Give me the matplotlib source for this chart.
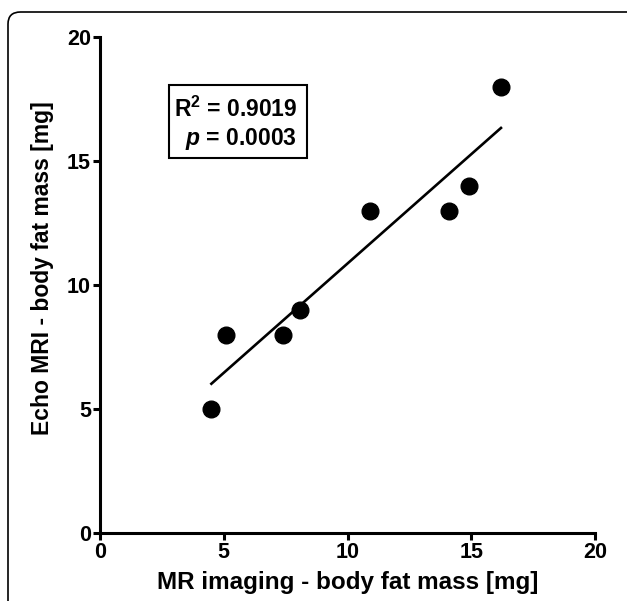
import numpy as np
import matplotlib.pyplot as plt
from matplotlib.patches import FancyBboxPatch, Rectangle

# values
mri_x = [4.5, 5.1, 7.4, 8.1, 10.9, 14.1, 14.9, 16.2]
echo_y = [5, 8, 8, 9, 13, 13, 14, 18]
ticks = [0, 5, 10, 15, 20]
r2_text = "0.9019"
p_text = "0.0003"

plt.rcParams['font.family'] = 'Liberation Sans'
plt.rcParams['font.weight'] = 'bold'
plt.rcParams['mathtext.fontset'] = 'custom'
plt.rcParams['mathtext.rm'] = 'Liberation Sans:bold'
plt.rcParams['mathtext.it'] = 'Liberation Sans:bold:italic'
plt.rcParams['mathtext.bf'] = 'Liberation Sans:bold'

fig = plt.figure(figsize=(6.27, 6.01), dpi=100)
ax = fig.add_axes([0.1595, 0.1131, 0.7895, 0.8253])

# rounded outer frame
frame = FancyBboxPatch((8 / 627, -0.1), 1.2, 1.1 - 12 / 601,
                       boxstyle="round,pad=0,rounding_size=0.02",
                       transform=fig.transFigure, fill=False,
                       lw=1.2, ec='black', clip_on=False)
fig.patches.append(frame)

x = np.array(mri_x)
y = np.array(echo_y)
k, b = np.polyfit(x, y, 1)
xs = np.array([x.min(), x.max()])
ax.plot(xs, k * xs + b, color='black', lw=1.9)
ax.plot(x, y, 'o', color='black', ms=12, clip_on=False)

ax.set_xlim(0, 20)
ax.set_ylim(0, 20)
ax.set_xticks(ticks)
ax.set_yticks(ticks)
ax.spines['top'].set_visible(False)
ax.spines['right'].set_visible(False)
ax.spines['left'].set_linewidth(2.2)
ax.spines['bottom'].set_linewidth(2.2)
ax.tick_params(width=2.2, length=5, labelsize=15.5, pad=1.5)
for lab in ax.get_xticklabels() + ax.get_yticklabels():
    lab.set_fontweight('bold')

ax.set_xlabel("MR imaging - body fat mass [mg]", fontsize=17.5, fontweight='bold', labelpad=6)
ax.set_ylabel("Echo MRI - body fat mass [mg]", fontsize=16.5, fontweight='bold')
ax.yaxis.set_label_coords(-0.093, 0.535)

# stats box
ax.add_patch(Rectangle((0.139, 0.756), 0.279, 0.147, transform=ax.transAxes,
                       fill=True, fc='white', ec='black', lw=1.5, zorder=3))
ax.text(0.398, 0.839, r"$\mathrm{R}^2$ = " + r2_text, transform=ax.transAxes,
        fontsize=16.5, fontweight='bold', ha='right', va='baseline', zorder=4)
ax.text(0.398, 0.782, r"$\mathit{p}$ = " + p_text, transform=ax.transAxes,
        fontsize=16.5, fontweight='bold', ha='right', va='baseline', zorder=4)

fig.savefig("out.png", dpi=100)
